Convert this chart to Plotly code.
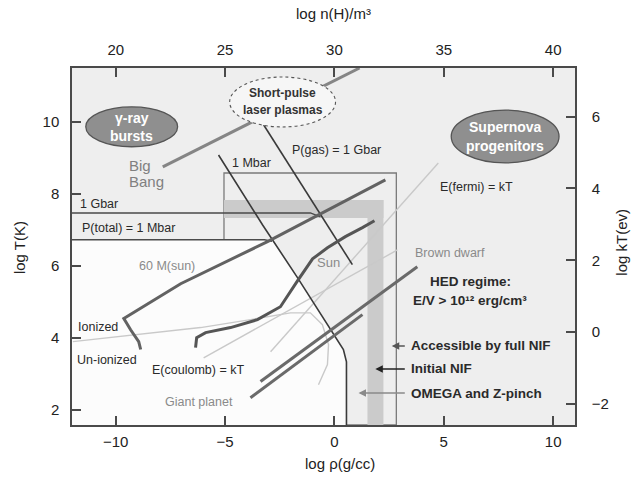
import plotly.graph_objects as go

# ---- axis ranges and tick labels ----
rho_range = [-12, 11]          # log rho (g/cc)
logT_range = [1.57, 11.5]      # log T (K)
nH_offset = 30.0               # log n(H)/m^3 = log rho + offset
kT_offset = 4.15               # log kT(eV) = log T - offset
rho_ticks = [-10, -5, 0, 5, 10]
logT_ticks = [2, 4, 6, 8, 10]
nH_ticks = [20, 25, 30, 35, 40]
kT_ticks = [-2, 0, 2, 4, 6]

# ---- curves (log rho, log T) ----
bigbang_rho = [-7.85, 1.15]
bigbang_T = [8.75, 11.5]

msun60_rho = [-8.86, -8.95, -9.32, -9.63, -7.03, -3.06, 2.33]
msun60_T = [3.67, 3.89, 4.22, 4.53, 5.50, 6.67, 8.39]

sun_rho = [-6.35, -6.30, -5.89, -4.75, -3.52, -2.47, -1.69, -1.00, -0.32, 0.50, 1.28, 1.83]
sun_T = [3.72, 4.00, 4.14, 4.28, 4.50, 4.86, 5.58, 6.19, 6.50, 6.81, 7.06, 7.25]

brown_dwarf_rho = [-3.38, 3.79]
brown_dwarf_T = [2.78, 5.97]

giant_planet_rho = [-3.84, 1.28]
giant_planet_T = [2.33, 4.64]

mbar_rho = [-5.30, -3.29, -1.69, -0.32, 0.14, 0.41, 0.55, 0.55]
mbar_T = [9.08, 7.14, 5.67, 4.36, 3.94, 3.67, 3.33, 1.57]

pgas_rho = [-3.24, 0.82]
pgas_T = [9.92, 6.03]

ptot_gbar_rho = [-12.0, -1.10, -0.64]
ptot_gbar_T = [7.47, 7.47, 7.36]

ptot_mbar_rho = [-12.0, -3.20, -2.85]
ptot_mbar_T = [6.72, 6.72, 6.68]

ioniz_rho = [-11.96, -9.32, -6.12, -3.84, -2.01, -1.10, -0.55, -0.27, -0.32, -0.73]
ioniz_T = [3.89, 4.06, 4.28, 4.50, 4.69, 4.69, 4.36, 3.81, 3.25, 2.69]

fermi_rho = [-2.92, 4.75]
fermi_T = [3.61, 8.86]

coulomb_rho = [-5.98, 2.88]
coulomb_T = [3.44, 6.44]

# white (non-HED) region, bounded by the 1 Mbar total-pressure curve
low_rho = [-12.0, -12.0, -2.85, -1.69, -0.32, 0.14, 0.41, 0.55, 0.55]
low_T = [1.57, 6.72, 6.72, 5.67, 4.36, 3.94, 3.67, 3.33, 1.57]

# facility regions (log rho, log T)
full_nif_box = dict(rho=[-5.05, 2.83], T=[1.57, 8.58])
initial_nif_h = dict(rho=[-5.05, 2.24], T=[7.33, 7.83])
initial_nif_v = dict(rho=[1.51, 2.24], T=[1.57, 7.83])

FONT = "Liberation Sans, Arial, Helvetica, sans-serif"
DARK = "#2a2a2a"
GRAY_TXT = "#8a8a8a"

fig = go.Figure()

# non-HED region
fig.add_trace(go.Scatter(x=low_rho, y=low_T, fill="toself", fillcolor="#fcfcfc",
                         line=dict(width=0), mode="lines", hoverinfo="skip"))

def line(x, y, color, width):
    fig.add_trace(go.Scatter(x=x, y=y, mode="lines", hoverinfo="skip",
                             line=dict(color=color, width=width)))

# thin physics boundaries
line(ioniz_rho, ioniz_T, "#c9c9c9", 1.4)
line(fermi_rho, fermi_T, "#c9c9c9", 1.4)
line(coulomb_rho, coulomb_T, "#c9c9c9", 1.4)

# pressure contours
line(ptot_gbar_rho, ptot_gbar_T, "#4a4a4a", 1.5)
line(ptot_mbar_rho, ptot_mbar_T, "#4a4a4a", 1.5)
line(mbar_rho, mbar_T, "#3a3a3a", 1.6)
line(pgas_rho, pgas_T, "#3a3a3a", 1.6)

# object tracks
line(bigbang_rho, bigbang_T, "#858585", 3)
line(msun60_rho, msun60_T, "#626262", 3)
line(sun_rho, sun_T, "#555555", 3)
line(brown_dwarf_rho, brown_dwarf_T, "#6a6a6a", 3)
line(giant_planet_rho, giant_planet_T, "#6a6a6a", 3)

# invisible trace to bind the secondary axes
fig.add_trace(go.Scatter(x=[nH_ticks[0]], y=[kT_ticks[0]], xaxis="x2", yaxis="y2",
                         mode="markers", marker=dict(opacity=0), hoverinfo="skip"))

shapes = []
shapes.append(dict(type="rect", xref="x", yref="y", layer="below",
                   x0=full_nif_box["rho"][0], x1=full_nif_box["rho"][1],
                   y0=full_nif_box["T"][0], y1=full_nif_box["T"][1],
                   line=dict(color="#7a7a7a", width=1.3), fillcolor="rgba(0,0,0,0)"))
for band in (initial_nif_h, initial_nif_v):
    shapes.append(dict(type="rect", xref="x", yref="y", layer="below",
                       x0=band["rho"][0], x1=band["rho"][1],
                       y0=band["T"][0], y1=band["T"][1],
                       line=dict(width=0), fillcolor="#cbcbcb"))

# regime ellipses
shapes.append(dict(type="circle", xref="x", yref="y", layer="above",
                   x0=-11.37, x1=-7.17, y0=9.31, y1=10.42,
                   fillcolor="#8f8f8f", line=dict(color="#555555", width=1.3)))
shapes.append(dict(type="circle", xref="x", yref="y", layer="above",
                   x0=-4.79, x1=0.05, y0=9.86, y1=11.25,
                   fillcolor="#f6f6f6", line=dict(color="#555555", width=1.1, dash="dot")))
shapes.append(dict(type="circle", xref="x", yref="y", layer="above",
                   x0=5.34, x1=10.27, y0=8.86, y1=10.33,
                   fillcolor="#8f8f8f", line=dict(color="#555555", width=1.3)))

ann = []

def label(text, x, y, color=DARK, size=12.5, xanchor="left", bold=False):
    ann.append(dict(text=f"<b>{text}</b>" if bold else text, x=x, y=y, xref="x", yref="y",
                    xanchor=xanchor, yanchor="middle", showarrow=False,
                    font=dict(family=FONT, size=size, color=color)))

# ellipse captions, one annotation per line
label("γ-ray", -9.27, 10.11, color="white", size=14, xanchor="center", bold=True)
label("bursts", -9.27, 9.61, color="white", size=14, xanchor="center", bold=True)
label("Short-pulse", -2.37, 10.80, color="#333", size=12, xanchor="center", bold=True)
label("laser plasmas", -2.37, 10.33, color="#333", size=12, xanchor="center", bold=True)
label("Supernova", 7.8, 9.86, color="white", size=14, xanchor="center", bold=True)
label("progenitors", 7.8, 9.33, color="white", size=14, xanchor="center", bold=True)

label("Big", -9.48, 8.80, color="#808080", size=15)
label("Bang", -9.48, 8.33, color="#808080", size=15)
label("1 Gbar", -11.73, 7.72)
label("P(total) = 1 Mbar", -11.64, 7.05)
label("1 Mbar", -4.77, 8.86)
label("P(gas) = 1 Gbar", -2.03, 9.22)
label("E(fermi) = kT", 4.74, 8.19)
label("Brown dwarf", 3.59, 6.35, color=GRAY_TXT)
label("Sun", -0.89, 6.10, color=GRAY_TXT, size=13)
label("60 M(sun)", -9.03, 5.99, color=GRAY_TXT)
label("Ionized", -11.82, 4.30)
label("Un-ionized", -11.86, 3.38)
label("E(coulomb) = kT", -8.43, 3.10)
label("Giant planet", -7.84, 2.21, color=GRAY_TXT)
label("HED regime:", 6.2, 5.55, size=13.5, xanchor="center", bold=True)
label("E/V > 10¹² erg/cm³", 6.2, 5.02, size=13.5, xanchor="center", bold=True)

# facility labels, each with an arrow pointing at its region boundary
def arrow_label(text, x_head, x_text, y, color):
    ann.append(dict(text=f"<b>{text}</b>", x=x_head, y=y, ax=x_text, ay=y,
                    xref="x", yref="y", axref="x", ayref="y", xanchor="left",
                    yanchor="middle", showarrow=True, arrowhead=2, arrowsize=1,
                    arrowwidth=1.5, arrowcolor=color, standoff=0, startstandoff=4,
                    font=dict(family=FONT, size=13.5, color=DARK)))

arrow_label("Accessible by full NIF", 2.62, 3.40, 3.77, "#555555")
arrow_label("Initial NIF", 1.87, 3.40, 3.13, "#222222")
arrow_label("OMEGA and Z-pinch", 1.10, 3.40, 2.46, "#8a8a8a")

# axis titles
def title(text, x, y, angle=0):
    ann.append(dict(text=text, x=x, y=y, xref="paper", yref="paper", showarrow=False,
                    textangle=angle, xanchor="center", yanchor="middle",
                    font=dict(family=FONT, size=15, color="#222")))

title("log n(H)/m³", 0.52, 1.152)
title("log ρ(g/cc)", 0.533, -0.108)
title("log T(K)", -0.103, 0.496, -90)
title("log kT(ev)", 1.093, 0.513, -90)

axis_common = dict(showgrid=False, zeroline=False, showline=True, linecolor="#4a4a4a",
                   linewidth=1.5, ticks="inside", ticklen=9, tickwidth=1.5, tickcolor="#4a4a4a",
                   tickfont=dict(family=FONT, size=15, color="#222"))

fig.update_layout(
    width=635, height=478,
    margin=dict(l=72, r=60, t=68, b=53),
    paper_bgcolor="white", plot_bgcolor="#eeeeee",
    showlegend=False,
    shapes=shapes, annotations=ann,
    xaxis=dict(range=rho_range, tickvals=rho_ticks, side="bottom",
               ticklabelstandoff=2, **axis_common),
    xaxis2=dict(range=[rho_range[0] + nH_offset, rho_range[1] + nH_offset],
                tickvals=nH_ticks, overlaying="x", side="top", anchor="y",
                ticklabelstandoff=5, **axis_common),
    yaxis=dict(range=logT_range, tickvals=logT_ticks, side="left",
               ticklabelstandoff=8, **axis_common),
    yaxis2=dict(range=[logT_range[0] - kT_offset, logT_range[1] - kT_offset],
                tickvals=kT_ticks, overlaying="y", side="right", anchor="x",
                ticklabelstandoff=12, **axis_common),
)

fig.write_html("out.html")
